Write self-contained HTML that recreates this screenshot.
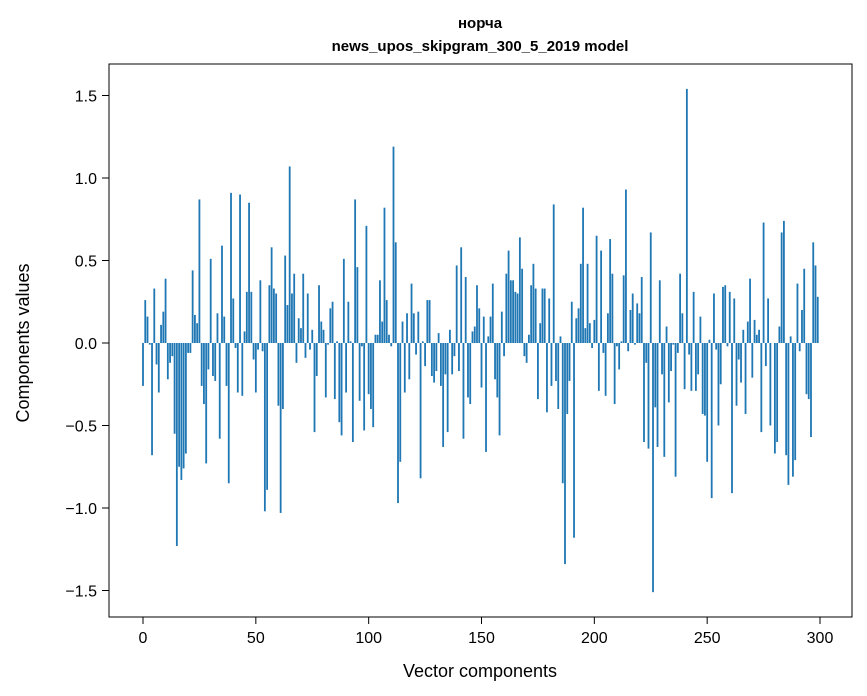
<!DOCTYPE html>
<html><head><meta charset="utf-8"><style>
body{margin:0;background:#fff;}
svg{display:block;font-family:"Liberation Sans","DejaVu Sans",sans-serif;}
</style></head><body>
<svg id="chart" width="867" height="696" viewBox="0 0 867 696" xmlns="http://www.w3.org/2000/svg">
<rect x="0" y="0" width="867" height="696" fill="#fff"/>
<text x="480" y="28" text-anchor="middle" font-size="15" font-weight="bold">норча</text>
<text x="480" y="51" text-anchor="middle" font-size="15" font-weight="bold">news_upos_skipgram_300_5_2019 model</text>
<g id="bars"></g>
<g id="xticks"></g>
<g id="yticks"></g>
<rect x="109" y="64" width="743" height="553" fill="none" stroke="#000" stroke-width="1"/>
<text x="480" y="677" text-anchor="middle" font-size="18">Vector components</text>
<text transform="translate(29,343) rotate(-90)" text-anchor="middle" font-size="18">Components values</text>
</svg>
<script>
const values = [
-0.26,0.26,0.16,-0.01,-0.68,0.33,-0.13,-0.30,0.11,0.19,
0.39,-0.22,-0.12,-0.08,-0.55,-1.23,-0.75,-0.83,-0.76,-0.67,
-0.06,-0.06,0.44,0.17,0.12,0.87,-0.26,-0.37,-0.73,-0.16,
0.51,-0.20,-0.23,0.18,-0.58,0.59,0.16,-0.26,-0.85,0.91,
0.27,-0.03,-0.30,0.90,-0.32,0.07,0.31,0.85,0.31,-0.10,
-0.30,-0.04,0.38,-0.05,-1.02,-0.89,0.35,0.58,0.33,0.30,
-0.38,-1.03,-0.40,0.53,0.23,1.07,0.30,0.42,-0.12,0.15,
0.09,0.42,-0.09,0.30,-0.04,0.08,-0.54,-0.20,0.35,0.13,
0.08,-0.33,-0.01,0.21,0.25,-0.34,0.01,-0.48,-0.56,0.51,
-0.30,0.25,0.01,-0.60,0.87,0.46,-0.35,-0.02,-0.53,0.71,
-0.31,-0.40,-0.51,0.05,0.05,0.38,0.13,0.82,0.26,0.05,
-0.02,1.19,0.61,-0.97,-0.72,0.13,-0.30,0.18,-0.22,0.36,
0.18,-0.07,0.19,-0.82,0.01,-0.14,0.26,0.26,-0.20,-0.24,
-0.17,0.06,-0.26,-0.63,-0.19,-0.54,0.08,-0.19,-0.08,0.47,
-0.17,0.58,-0.58,0.40,-0.33,-0.37,0.07,0.10,0.35,0.21,
-0.27,0.16,-0.66,0.04,0.16,0.36,-0.22,-0.33,-0.56,0.19,
-0.08,0.42,0.56,0.38,0.38,0.31,0.30,0.64,0.45,-0.08,
-0.12,0.05,0.35,0.48,0.33,-0.34,0.12,0.33,0.33,-0.42,
0.27,-0.26,0.84,-0.23,-0.40,0.04,-0.85,-1.34,-0.43,-0.23,
0.25,-1.18,0.15,0.21,0.48,0.82,0.09,0.48,0.12,-0.03,
0.14,0.65,-0.29,0.56,-0.06,-0.32,0.18,0.63,0.42,-0.37,
-0.02,-0.16,0.01,0.41,0.93,-0.05,0.20,0.30,-0.01,0.24,
0.18,0.40,-0.60,-0.12,-0.64,0.67,-1.51,-0.39,-0.63,0.38,
-0.19,-0.69,0.10,-0.36,-0.17,-0.01,-0.81,-0.06,0.42,0.18,
-0.28,1.54,-0.07,-0.29,0.31,-0.29,-0.19,0.16,-0.43,-0.44,
-0.72,0.02,-0.94,0.30,-0.04,-0.50,-0.25,0.34,0.35,-0.02,
0.31,-0.91,0.27,-0.38,-0.10,-0.24,0.08,-0.43,0.13,0.39,
-0.21,0.14,0.05,0.08,-0.54,0.73,-0.14,0.27,-0.50,0.00,
-0.67,-0.60,0.10,0.67,0.74,-0.68,-0.86,0.04,-0.81,-0.71,
0.36,-0.05,0.20,0.45,-0.31,-0.34,-0.57,0.61,0.47,0.28
];
const xTicks = [0,50,100,150,200,250,300];
const yTicks = [-1.5,-1.0,-0.5,0.0,0.5,1.0,1.5];
const yTickLabels = ["\u22121.5","\u22121.0","\u22120.5","0.0","0.5","1.0","1.5"];

const NS = "http://www.w3.org/2000/svg";
function xs(v){ return 143 + v * 2.2567; }
function ys(v){ return 343 - v * 165; }

const bars = document.getElementById('bars');
values.forEach((v, i) => {
  const r = document.createElementNS(NS, 'rect');
  
  
  const bw = 0.8 * 2.2567;
  r.setAttribute('x', xs(i) - bw / 2);
  r.setAttribute('width', bw);
  r.setAttribute('y', Math.min(ys(v), ys(0)));
  r.setAttribute('height', Math.abs(ys(v) - ys(0)));
  r.setAttribute('fill', '#1f77b4');
  bars.appendChild(r);
});

const xg = document.getElementById('xticks');
xTicks.forEach(t => {
  const l = document.createElementNS(NS, 'line');
  
  
  l.setAttribute('x1', xs(t)); l.setAttribute('x2', xs(t));
  l.setAttribute('y1', 617); l.setAttribute('y2', 624);
  l.setAttribute('stroke', '#000');
  xg.appendChild(l);
  const tx = document.createElementNS(NS, 'text');
  
  
  tx.setAttribute('x', xs(t)); tx.setAttribute('y', 643);
  tx.setAttribute('text-anchor', 'middle');
  tx.setAttribute('font-size', '16');
  tx.textContent = String(t);
  xg.appendChild(tx);
});

const yg = document.getElementById('yticks');
yTicks.forEach((t, i) => {
  const l = document.createElementNS(NS, 'line');
  
  
  l.setAttribute('x1', 102); l.setAttribute('x2', 109);
  l.setAttribute('y1', ys(t)); l.setAttribute('y2', ys(t));
  l.setAttribute('stroke', '#000');
  yg.appendChild(l);
  const tx = document.createElementNS(NS, 'text');
  
  
  tx.setAttribute('x', 97); tx.setAttribute('y', ys(t) + 6);
  tx.setAttribute('text-anchor', 'end');
  tx.setAttribute('font-size', '16');
  tx.textContent = yTickLabels[i];
  yg.appendChild(tx);
});
</script>
</body></html>
